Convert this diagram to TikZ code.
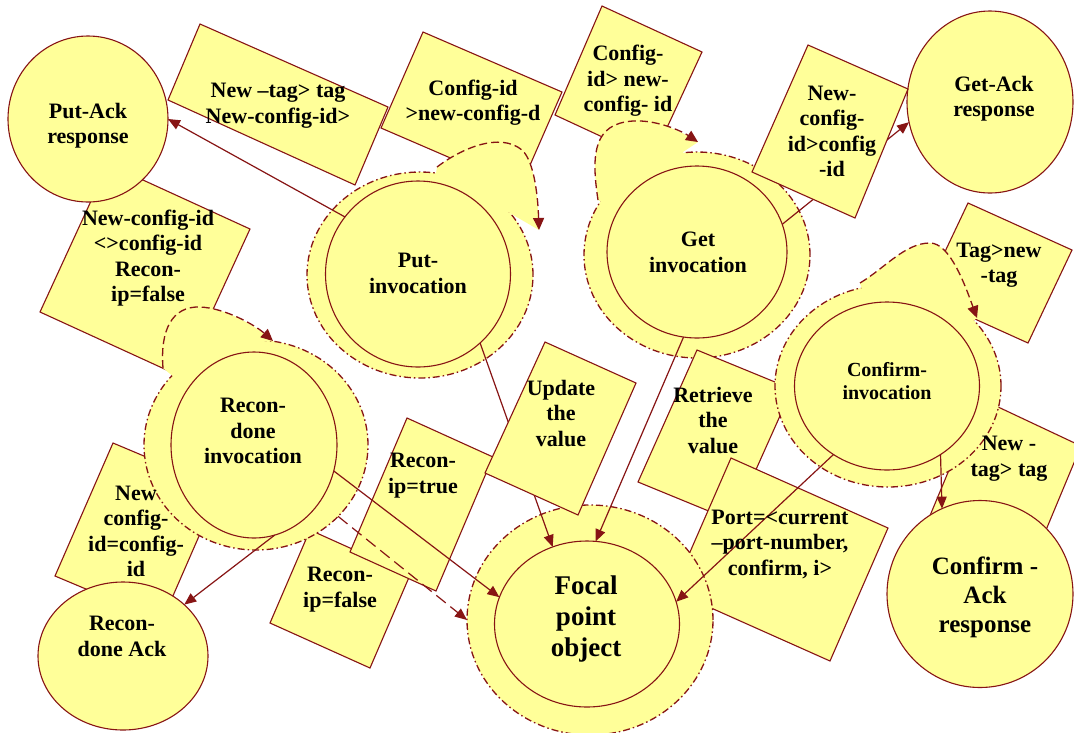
\documentclass[tikz,border=0pt]{standalone}
\usepackage{fontspec}
\setmainfont{Liberation Serif}
\usetikzlibrary{shapes.geometric,arrows.meta}
\definecolor{ylw}{RGB}{255,255,153}
\definecolor{mrn}{RGB}{135,20,20}
\begin{document}
\begin{tikzpicture}[x=1pt,y=-1pt,
  every node/.style={inner sep=0pt, outer sep=0pt},
  sz/.style 2 args={minimum width=#1pt, minimum height=#2pt},
  box/.style={draw=mrn, fill=ylw, line width=1.1pt, line join=miter},
  disc/.style={ellipse, draw=mrn, fill=ylw, line width=1.1pt},
  halo/.style={ellipse, draw=mrn, fill=ylw, line width=1.3pt, dash pattern=on 7pt off 3pt on 1.5pt off 3pt},
  loopline/.style={draw=mrn, line width=1.3pt, dash pattern=on 8pt off 4pt, -{Triangle[length=12pt,width=11pt]}},
  conn/.style={draw=mrn, line width=1.2pt, -{Triangle[length=12pt,width=10pt]}},
  dconn/.style={conn, dash pattern=on 12pt off 6pt},
  lbl/.style={align=center, font=\fontsize{22}{25.5}\selectfont\bfseries, text=black},
]
\useasboundingbox (0,0) rectangle (1074,732);
\fill[white] (0,0) rectangle (1074,732);
\clip (0,0) rectangle (1074,732);

% ---- condition boxes lying underneath ----
\draw[box] (200,24) -- (388,107) -- (355,185) -- (168,100) -- cycle;   % tag box
\draw[box] (423,32) -- (562,92) -- (520,188) -- (381,128) -- cycle;    % config box (put)
\draw[box] (602,6) -- (702,52) -- (652,160) -- (555,115) -- cycle;     % config box (get)
\draw[box] (108,164) -- (250,229) -- (182,377) -- (40,312) -- cycle;   % recon condition
\draw[box] (968,203) -- (1072,250) -- (1028,343) -- (924,296) -- cycle;% tag>new-tag
\draw[box] (979,398) -- (1081,446) -- (1031,566) -- (929,518) -- cycle;% new-tag>tag
\draw[box] (113,443) -- (220,488) -- (162,621) -- (55,576) -- cycle;   % new config = config
\draw[box] (310,530) -- (410,575) -- (370,668) -- (270,623) -- cycle;  % recon false
\draw[box] (407,418) -- (493,457) -- (436,591) -- (350,552) -- cycle;  % recon true

% ---- response objects ----
\node[disc, sz={160}{166}] (putack) at (88,119) {};
\node[disc, sz={166}{182}] (getack) at (990,102) {};
\node[disc, sz={170}{148}] (reconack) at (123,656) {};
\node[disc, sz={186}{187}] (confack) at (980,594) {};

% ---- invocation halos ----
\node[halo, sz={226}{206}] (puth) at (420,275) {};
\node[halo, sz={226}{206}] (geth) at (697,255) {};
\draw[box] (697,350) -- (792,389) -- (733,521) -- (638,482) -- cycle;  % retrieve
\draw[box] (731,458) -- (888,528) -- (830,661) -- (673,591) -- cycle;  % port
\node[halo, sz={224}{210}] (reconh) at (256,445) {};
\node[halo, sz={226}{202}] (confh) at (888,386) {};
\node[halo, sz={246}{230}] (focalh) at (590,620) {};

% ---- self loops ----
\fill[ylw] (437,167) .. controls (462,148) and (500,132) .. (522,150) .. controls (535,162) and (538,200) .. (539,230) -- (508,212) -- (puth.center) -- cycle;
\draw[loopline] (437,167) .. controls (462,148) and (500,132) .. (522,150) .. controls (535,162) and (538,200) .. (539,230);

\fill[ylw] (598,200) .. controls (592,160) and (592,128) .. (625,122) .. controls (650,117) and (680,130) .. (698,142) -- (683,152) -- (geth.center) -- cycle;
\draw[loopline] (598,200) .. controls (592,160) and (592,128) .. (625,122) .. controls (650,117) and (680,130) .. (698,142);

\fill[ylw] (163,368) .. controls (160,330) and (172,306) .. (200,307) .. controls (225,308) and (255,325) .. (273,341) -- (262,341) -- (reconh.center) -- cycle;
\draw[loopline] (163,368) .. controls (160,330) and (172,306) .. (200,307) .. controls (225,308) and (255,325) .. (273,341);

\fill[ylw] (860,283) .. controls (885,268) and (905,243) .. (930,243) .. controls (950,243) and (965,285) .. (977,318) -- (972,322) -- (confh.center) -- cycle;
\draw[loopline] (860,283) .. controls (885,268) and (905,243) .. (930,243) .. controls (950,243) and (965,285) .. (977,318);

% ---- invocation objects ----
\node[disc, sz={185}{186}] (put) at (418,274) {};
\node[disc, sz={180}{172}] (get) at (697,252) {};
\node[disc, sz={166}{186}] (recon) at (254,445) {};
\node[disc, sz={185}{168}] (conf) at (887,386) {};
\node[disc, sz={185}{166}] (focal) at (587,624) {};

% ---- connectors ----
\draw[conn] (put.142.5) -- (putack.0);
\draw[conn] (put.-48.8) -- (focal.114.5);
\draw[conn] (get.-99.2) -- (focal.84.6);
\draw[conn] (get.18.8) -- (getack.-166.3);
\draw[conn] (conf.-128) -- (focal.14);
\draw[conn] (conf.-52.9) -- (confack.114.7);
\draw[conn] (recon.-77.5) -- (reconack.40.2);
\draw[conn] (recon.-18.6) -- (focal.163);
\draw[dconn] (reconh.-41.6) -- (focalh.180);

% ---- boxes lying over connectors ----
\draw[box] (545,342) -- (636,383) -- (578,515) -- (485,473) -- cycle;  % update
\draw[box] (808,45) -- (908,89) -- (855,218) -- (752,172) -- cycle;    % new-config>config

% ---- texts ----
\node[lbl] (t-r1) at (278,105.5) {New –tag> tag\\New-config-id>};
\node[lbl] (t-r2) at (473,102.5) {Config-id\\>new-config-d};
\node[lbl] (t-r3) at (628,81) {Config-\\id> new-\\config- id};
\node[lbl] (t-r4) at (832,131.5) {New-\\config-\\id>config\\-id};
\node[lbl] (t-r5) at (148,258) {New-config-id\\<>config-id\\Recon-\\ip=false};
\node[lbl] (t-r6) at (999,265) {Tag>new\\-tag};
\node[lbl] (t-r7) at (1009,458.5) {New -\\tag> tag};
\node[lbl] (t-r8) at (713,420) {Retrieve\\the\\value};
\node[lbl] (t-r9) at (561,413) {Update\\the\\value};
\node[lbl] (t-r10) at (423,475.5) {Recon-\\ip=true};
\node[lbl] (t-r11) at (340,589.5) {Recon-\\ip=false};
\node[lbl] (t-r12) at (780,544) {Port=<current\\–port-number,\\confirm, i>};
\node[lbl] (t-r13) at (136,531.5) {New\\config-\\id=config-\\id};

\node[lbl] (t-putack) at (88,125.5) {Put-Ack\\response};
\node[lbl] (t-getack) at (994,98.5) {Get-Ack\\response};
\node[lbl] (t-reconack) at (122,636.5) {Recon-\\done Ack};
\node[lbl, font=\fontsize{25}{29}\selectfont\bfseries] (t-confack) at (985,597) {Confirm -\\Ack\\response};
\node[lbl, font=\fontsize{27}{31}\selectfont\bfseries] (t-focal) at (586,619) {Focal\\point\\object};
\node[lbl] (t-put) at (418,273.5) {Put-\\invocation};
\node[lbl] (t-get) at (698,252.5) {Get\\invocation};
\node[lbl] (t-recon) at (253,431) {Recon-\\done\\invocation};
\node[lbl, font=\fontsize{20}{23}\selectfont\bfseries] (t-conf) at (887,381.5) {Confirm-\\invocation};
\end{tikzpicture}
\end{document}
